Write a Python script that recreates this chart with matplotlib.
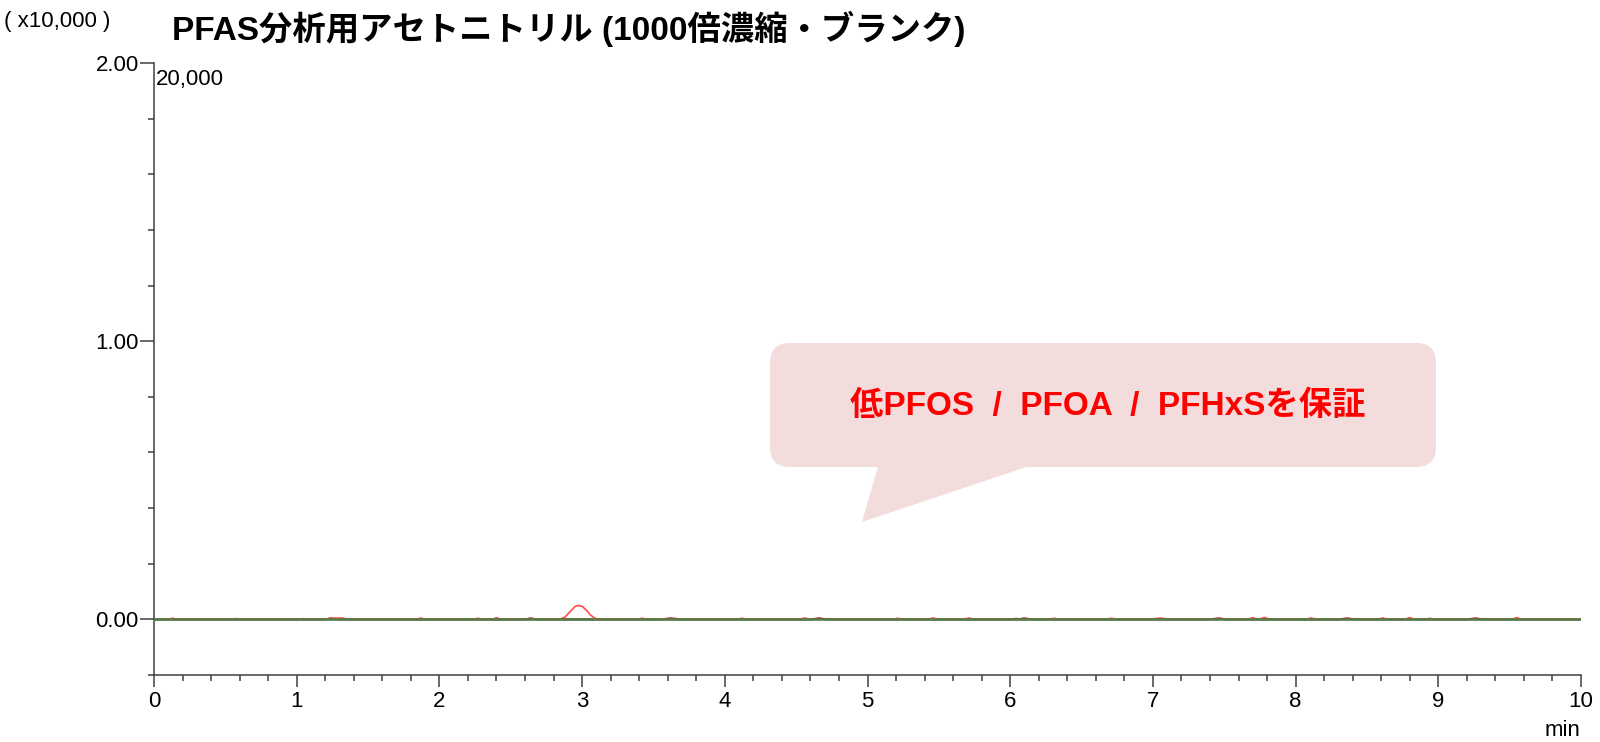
import matplotlib
matplotlib.use("Agg")
import matplotlib.pyplot as plt
from matplotlib.transforms import Affine2D
from matplotlib.patches import FancyBboxPatch, Polygon
from matplotlib.ticker import MultipleLocator, FixedLocator

# ---- data ----
title = "PFAS分析用アセトニトリル (1000倍濃縮・ブランク)"
callout = "低PFOS  /  PFOA  /  PFHxSを保証"
scale_label = "( x10,000 )"
max_label = "20,000"
x_label = "min"
x_ticks = [0, 1, 2, 3, 4, 5, 6, 7, 8, 9, 10]
y_ticks = [0.0, 1.0, 2.0]
y_tick_labels = ["0.00", "1.00", "2.00"]

# red trace (x10,000 counts)
red_t = [0.0, 0.10, 0.13, 0.16, 0.55, 0.58, 0.61, 1.02, 1.05, 1.08, 1.18, 1.26, 1.32, 1.36,
         1.84, 1.87, 1.90, 2.24, 2.27, 2.30, 2.37, 2.40, 2.43, 2.84, 2.88, 2.92, 2.95, 2.97,
         3.00, 3.03, 3.06, 3.09, 3.12, 3.38, 3.42, 3.46, 4.08, 4.12, 4.16, 4.52, 4.56, 4.60,
         5.17, 5.21, 5.25, 5.42, 5.46, 5.50, 5.67, 5.71, 5.75, 6.27, 6.31, 6.35, 6.67, 6.71,
         6.75, 6.98, 7.05, 7.12, 7.66, 7.70, 7.74, 7.78, 7.82, 8.07, 8.11, 8.15, 8.57, 8.61,
         8.65, 8.76, 8.80, 8.84, 9.51, 9.55, 9.59, 10.0]
red_y = [0.0, 0.0, 0.004, 0.0, 0.0, 0.003, 0.0, 0.0, 0.003, 0.0, 0.0, 0.004, 0.005, 0.0,
         0.0, 0.005, 0.0, 0.0, 0.004, 0.0, 0.0, 0.006, 0.0, 0.0, 0.008, 0.030, 0.046, 0.050,
         0.047, 0.033, 0.015, 0.004, 0.0, 0.0, 0.004, 0.0, 0.0, 0.004, 0.0, 0.0, 0.005, 0.0,
         0.0, 0.004, 0.0, 0.0, 0.005, 0.0, 0.0, 0.005, 0.0, 0.0, 0.004, 0.0, 0.0, 0.004,
         0.0, 0.0, 0.005, 0.0, 0.0, 0.006, 0.0, 0.007, 0.0, 0.0, 0.005, 0.0, 0.0, 0.005,
         0.0, 0.0, 0.006, 0.0, 0.0, 0.006, 0.0, 0.0]

# dark red trace
dred_t = [0.0, 1.20, 1.24, 1.30, 2.60, 2.64, 2.68, 3.55, 3.62, 3.70, 4.60, 4.66, 4.72,
          6.05, 6.10, 6.15, 7.40, 7.46, 7.52, 8.30, 8.36, 8.42, 9.20, 9.26, 9.32, 10.0]
dred_y = [0.0, 0.0, 0.004, 0.0, 0.0, 0.004, 0.0, 0.0, 0.004, 0.0, 0.0, 0.004, 0.0,
          0.0, 0.004, 0.0, 0.0, 0.004, 0.0, 0.0, 0.004, 0.0, 0.0, 0.004, 0.0, 0.0]

# blue trace
blue_t = [0.0, 4.62, 4.66, 4.70, 6.00, 6.04, 6.08, 8.90, 8.94, 8.98, 10.0]
blue_y = [0.0, 0.0, 0.003, 0.0, 0.0, 0.003, 0.0, 0.0, 0.003, 0.0, 0.0]

# green trace (flat baseline)
green_t = [0.0, 10.0]
green_y = [0.0, 0.0]

# ---- figure ----
W, H = 1600, 742
fig = plt.figure(figsize=(W / 100, H / 100), dpi=100)
fig.patch.set_facecolor("white")

def fx(px):
    return px / W

def fy(py):
    return 1 - py / H

left, right, top, bottom = 154, 1581, 63, 675
ax = fig.add_axes([fx(left), fy(bottom), fx(right - left), (bottom - top) / H])

axis_col = "#404040"
ax.plot(blue_t, blue_y, color="#5060c0", lw=1.3, zorder=2)
ax.plot(dred_t, dred_y, color="#b01020", lw=1.4, zorder=2)
ax.plot(red_t, red_y, color="#ff4a4a", lw=1.2, zorder=2.2)
ax.plot(green_t, green_y, color="#4f7f45", lw=1.8, zorder=3)

ax.set_xlim(0, 10)
ax.set_ylim(-0.2, 2.0)
for s in ["top", "right"]:
    ax.spines[s].set_visible(False)
for s in ["left", "bottom"]:
    ax.spines[s].set_color(axis_col)
    ax.spines[s].set_linewidth(1.1)

ax.xaxis.set_major_locator(FixedLocator(x_ticks))
ax.xaxis.set_minor_locator(MultipleLocator(0.2))
ax.yaxis.set_major_locator(FixedLocator(y_ticks))
ax.yaxis.set_minor_locator(MultipleLocator(0.2))
ax.set_xticklabels([str(v) for v in x_ticks])
ax.set_yticklabels(y_tick_labels)

tick_font = ["Liberation Sans", "DejaVu Sans"]
ax.tick_params(axis="x", which="major", direction="out", length=8.6, width=1.1,
               color=axis_col, pad=3.0, labelsize=16)
ax.tick_params(axis="x", which="minor", direction="out", length=4.3, width=1.1, color=axis_col)
ax.tick_params(axis="y", which="major", direction="out", length=10, width=1.1,
               color=axis_col, pad=1.0, labelsize=16)
ax.tick_params(axis="y", which="minor", direction="out", length=4.3, width=1.1, color=axis_col)
for lab in ax.get_xticklabels() + ax.get_yticklabels():
    lab.set_family(tick_font)
    lab.set_color("black")

# ---- texts ----
head_font = ["Liberation Sans", "Noto Sans CJK JP"]
fig.text(fx(4), fy(22), scale_label, ha="left", va="center", fontsize=16,
         family=tick_font, color="black")
fig.text(fx(172), fy(29), title, ha="left", va="center", fontsize=24,
         fontweight="bold", family=head_font, color="black")
fig.text(fx(156), fy(80), max_label, ha="left", va="center", fontsize=16,
         family=tick_font, color="black")
fig.text(fx(1563), fy(731), x_label, ha="center", va="center", fontsize=16,
         family=tick_font, color="black")

# ---- callout bubble (pixel coordinates, y downward) ----
pix = Affine2D().scale(1, -1).translate(0, H).scale(1 / W, 1 / H) + fig.transFigure
bub_col = "#f2dcdc"
bx0, by0, bx1, by1, rad = 770, 343, 1436, 467, 20
box = FancyBboxPatch((bx0 + rad, by0 + rad), (bx1 - bx0) - 2 * rad, (by1 - by0) - 2 * rad,
                     boxstyle=f"round,pad={rad},rounding_size={rad}", transform=pix,
                     facecolor=bub_col, edgecolor="none", zorder=5)
fig.patches.append(box)
tail = Polygon([(880, 460), (1047, 460), (862, 522)], closed=True, transform=pix,
               facecolor=bub_col, edgecolor="none", zorder=5)
fig.patches.append(tail)
fig.text(fx(1108), fy(406), callout, ha="center", va="center", fontsize=24,
         fontweight="bold", color="#ff0000", family=head_font, zorder=6)

fig.savefig("out.png", dpi=100, facecolor="white")
